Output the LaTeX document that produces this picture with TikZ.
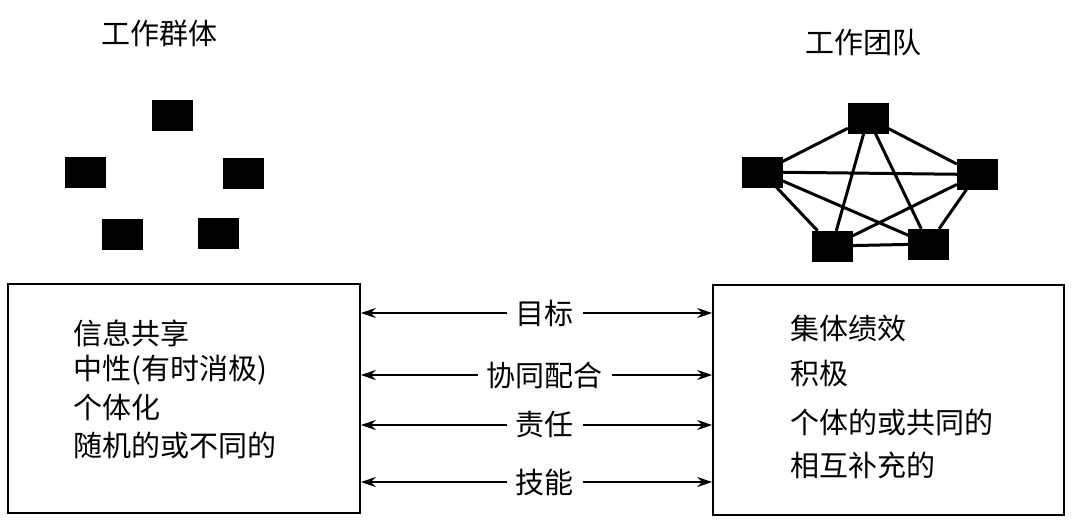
\documentclass[tikz,border=0pt]{standalone}
\usepackage{fontspec}
\setmainfont{Noto Sans CJK SC}
\usetikzlibrary{arrows.meta}
\begin{document}
\begin{tikzpicture}[x=1pt,y=-1pt,
  sq/.style={draw=black,fill=black,minimum width=40pt,minimum height=30pt,inner sep=0pt},
  edge/.style={line width=3pt},
  bigbox/.style={draw=black,line width=1.6pt,inner sep=0pt},
  txt/.style={font=\fontsize{29pt}{31pt}\selectfont,inner sep=0pt,anchor=west},
  ttl/.style={font=\fontsize{29pt}{31pt}\selectfont,inner sep=0pt},
  lab/.style={font=\fontsize{29pt}{31pt}\selectfont,fill=white,inner xsep=9pt,inner ysep=0pt},
  arr/.style={{Stealth[length=15pt,width=10pt]}-{Stealth[length=15pt,width=10pt]},line width=1.9pt}]
\useasboundingbox (0,0) rectangle (1081,532);
% titles
\node[ttl] (t1) at (159,33) {工作群体};
\node[ttl] (t2) at (863,43) {工作团队};
% left group squares
\node[sq] (a1) at (172,115) {};
\node[sq] (a2) at (85,172) {};
\node[sq] (a3) at (243,173.5) {};
\node[sq] (a4) at (122.5,234) {};
\node[sq] (a5) at (218.5,233) {};
% right group squares
\node[sq] (b1) at (868,118) {};
\node[sq] (b2) at (762,172) {};
\node[sq] (b3) at (977,174.5) {};
\node[sq] (b4) at (832,246) {};
\node[sq] (b5) at (928.5,244) {};
\draw[edge] (b1) -- (b2) (b1) -- (b3) (b1) -- (b4) (b1) -- (b5)
            (b2) -- (b3) (b2) -- (b4) (b2) -- (b5)
            (b3) -- (b4) (b3) -- (b5) (b4) -- (b5);
% boxes
\node[bigbox,minimum width=352pt,minimum height=229pt] (L) at (184,398.5) {};
\node[bigbox,minimum width=351pt,minimum height=230pt] (R) at (888.5,400) {};
% left texts
\node[txt] (l1) at (73,333) {信息共享};
\node[txt] (l2) at (73,370) {中性(有时消极)};
\node[txt] (l3) at (73,407) {个体化};
\node[txt] (l4) at (73,445) {随机的或不同的};
% right texts
\node[txt] (r1) at (790,328) {集体绩效};
\node[txt] (r2) at (790,373) {积极};
\node[txt] (r3) at (790,422) {个体的或共同的};
\node[txt] (r4) at (790,465) {相互补充的};
% arrows
\draw[arr] (L.east |- 0,313) -- node[lab,pos=0.524] (m1) {目标} (R.west |- 0,313);
\draw[arr] (L.east |- 0,375) -- node[lab,pos=0.524] (m2) {协同配合} (R.west |- 0,375);
\draw[arr] (L.east |- 0,425) -- node[lab,pos=0.524] (m3) {责任} (R.west |- 0,425);
\draw[arr] (L.east |- 0,482) -- node[lab,pos=0.524] (m4) {技能} (R.west |- 0,482);
\end{tikzpicture}
\end{document}
